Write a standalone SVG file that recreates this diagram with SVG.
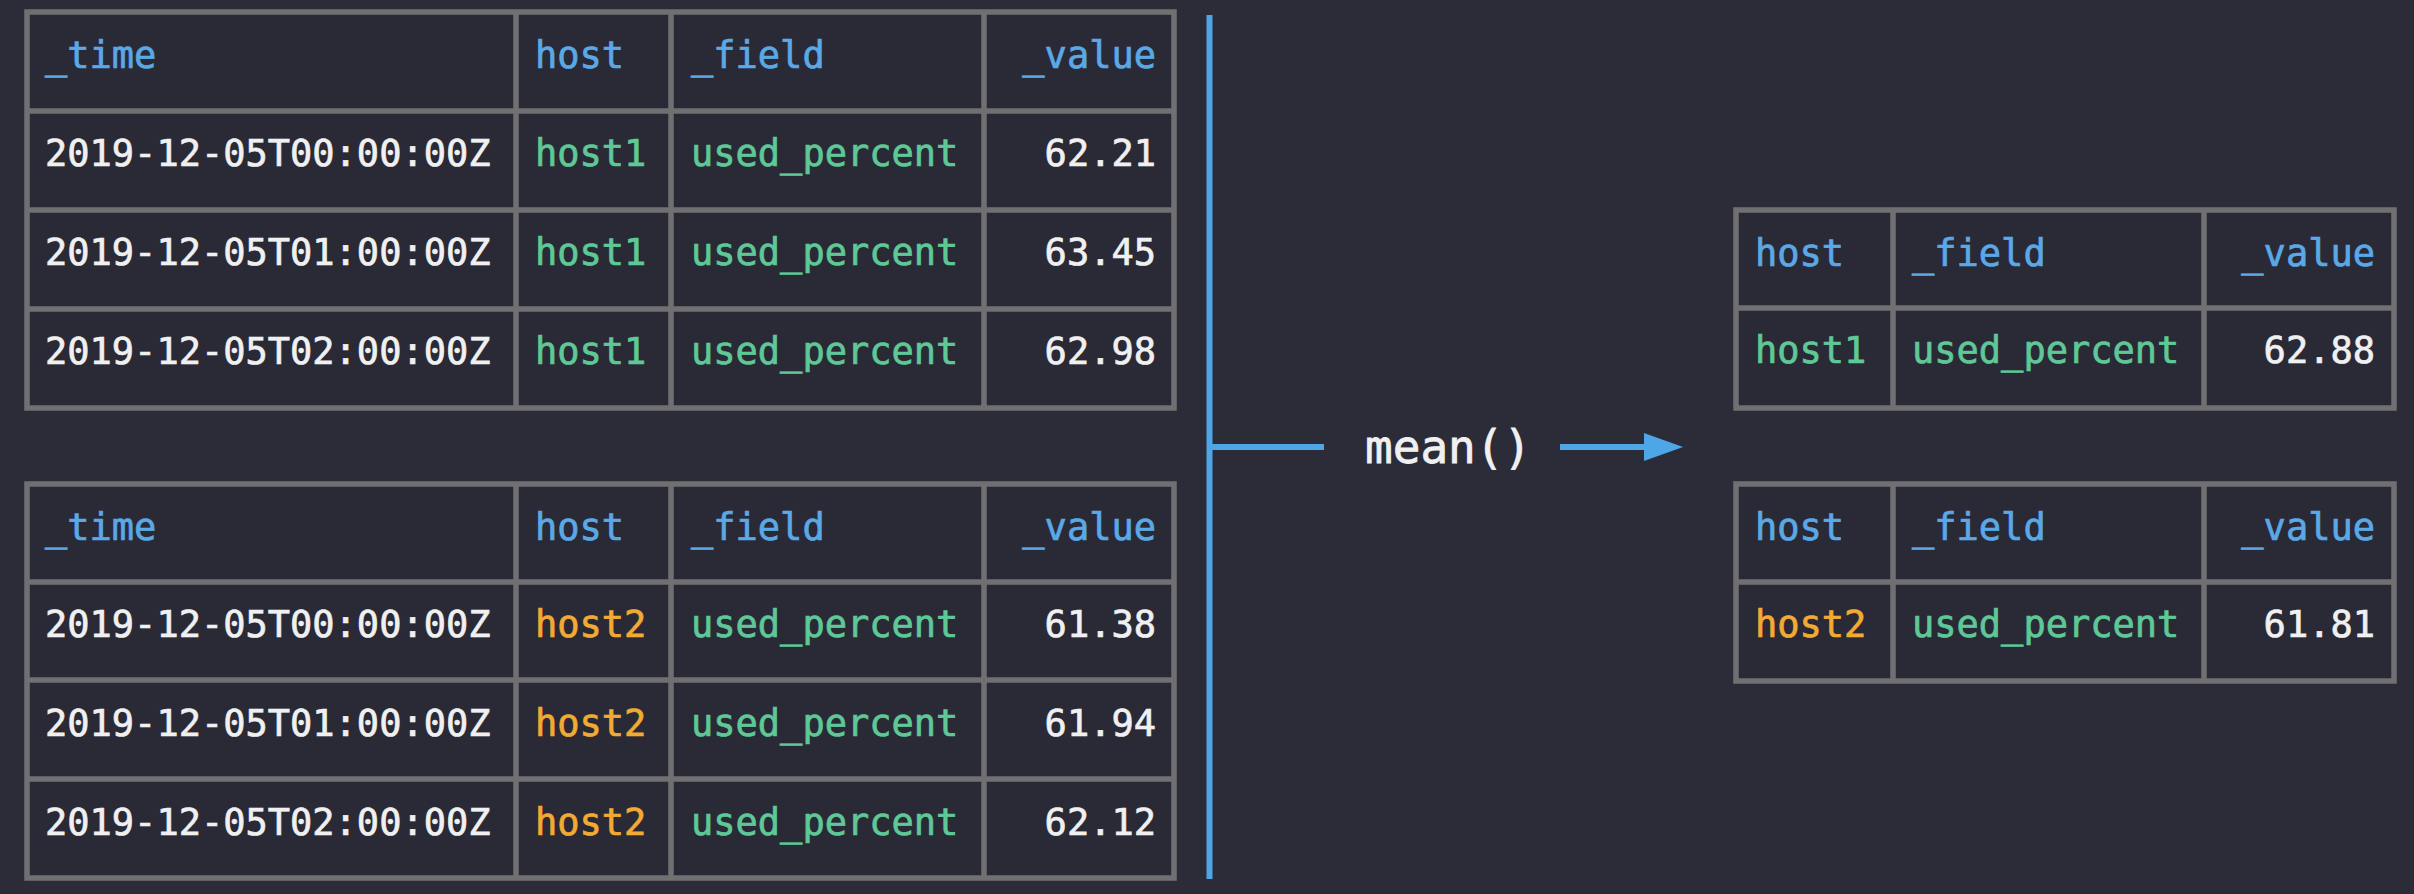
<svg xmlns="http://www.w3.org/2000/svg" width="2414" height="894" viewBox="0 0 2414 894">
<defs>
<style>
.bg{fill:#2c2c39}
.tbl{fill:#2a2a37;stroke:#707073;stroke-width:5.5}
.grid{stroke:#707073;stroke-width:5.5;fill:none}
text{font-family:"DejaVu Sans Mono","Liberation Mono",monospace;font-size:37px;stroke-width:0.7px}
.h{fill:#5aa9e6;stroke:#5aa9e6}
.g{fill:#5ec896;stroke:#5ec896}
.o{fill:#f2aa33;stroke:#f2aa33}
.w{fill:#f0f0f0;stroke:#f0f0f0}
.r{text-anchor:end}
.conn{stroke:#4ea6e6;stroke-width:6;fill:none}
.label{font-size:46px;fill:#f0f0f0;stroke:#f0f0f0;stroke-width:0.8px}
</style>
<marker id="arrow" markerWidth="39" markerHeight="28" refX="1" refY="14" viewBox="0 0 39 28" markerUnits="userSpaceOnUse" orient="auto">
<polygon points="0,0 39,14 0,28" fill="#4ea6e6"/>
</marker>
</defs>
<rect class="bg" x="0" y="0" width="2414" height="894"/>

<g id="table-host1-input">
<rect class="tbl" x="27" y="12" width="1147" height="396"/>
<path class="grid" d="M27 111H1174M27 210H1174M27 309H1174M516 12V408M671 12V408M984 12V408"/>
<text class="h" x="45" y="68">_time</text>
<text class="h" x="535" y="68">host</text>
<text class="h" x="691" y="68">_field</text>
<text class="h r" x="1156" y="68">_value</text>
<text class="w" x="45" y="166">2019-12-05T00:00:00Z</text>
<text class="g" x="535" y="166">host1</text>
<text class="g" x="691" y="166">used_percent</text>
<text class="w r" x="1156" y="166">62.21</text>
<text class="w" x="45" y="265">2019-12-05T01:00:00Z</text>
<text class="g" x="535" y="265">host1</text>
<text class="g" x="691" y="265">used_percent</text>
<text class="w r" x="1156" y="265">63.45</text>
<text class="w" x="45" y="364">2019-12-05T02:00:00Z</text>
<text class="g" x="535" y="364">host1</text>
<text class="g" x="691" y="364">used_percent</text>
<text class="w r" x="1156" y="364">62.98</text>
</g>

<g id="table-host2-input">
<rect class="tbl" x="27" y="484" width="1147" height="394"/>
<path class="grid" d="M27 582H1174M27 680H1174M27 779H1174M516 484V878M671 484V878M984 484V878"/>
<text class="h" x="45" y="540">_time</text>
<text class="h" x="535" y="540">host</text>
<text class="h" x="691" y="540">_field</text>
<text class="h r" x="1156" y="540">_value</text>
<text class="w" x="45" y="637">2019-12-05T00:00:00Z</text>
<text class="o" x="535" y="637">host2</text>
<text class="g" x="691" y="637">used_percent</text>
<text class="w r" x="1156" y="637">61.38</text>
<text class="w" x="45" y="736">2019-12-05T01:00:00Z</text>
<text class="o" x="535" y="736">host2</text>
<text class="g" x="691" y="736">used_percent</text>
<text class="w r" x="1156" y="736">61.94</text>
<text class="w" x="45" y="835">2019-12-05T02:00:00Z</text>
<text class="o" x="535" y="835">host2</text>
<text class="g" x="691" y="835">used_percent</text>
<text class="w r" x="1156" y="835">62.12</text>
</g>

<g id="table-host1-mean">
<rect class="tbl" x="1736" y="210" width="658" height="198"/>
<path class="grid" d="M1736 308H2394M1893 210V408M2204 210V408"/>
<text class="h" x="1755" y="266">host</text>
<text class="h" x="1912" y="266">_field</text>
<text class="h r" x="2375" y="266">_value</text>
<text class="g" x="1755" y="363">host1</text>
<text class="g" x="1912" y="363">used_percent</text>
<text class="w r" x="2375" y="363">62.88</text>
</g>

<g id="table-host2-mean">
<rect class="tbl" x="1736" y="484" width="658" height="197"/>
<path class="grid" d="M1736 582H2394M1893 484V681M2204 484V681"/>
<text class="h" x="1755" y="540">host</text>
<text class="h" x="1912" y="540">_field</text>
<text class="h r" x="2375" y="540">_value</text>
<text class="o" x="1755" y="637">host2</text>
<text class="g" x="1912" y="637">used_percent</text>
<text class="w r" x="2375" y="637">61.81</text>
</g>

<g id="connectors">
<path class="conn" d="M1209.5 15V879"/>
<path class="conn" d="M1209.5 447H1324"/>
<path class="conn" d="M1560 447H1645" marker-end="url(#arrow)"/>
<text class="label" x="1365" y="463">mean()</text>
</g>
</svg>
